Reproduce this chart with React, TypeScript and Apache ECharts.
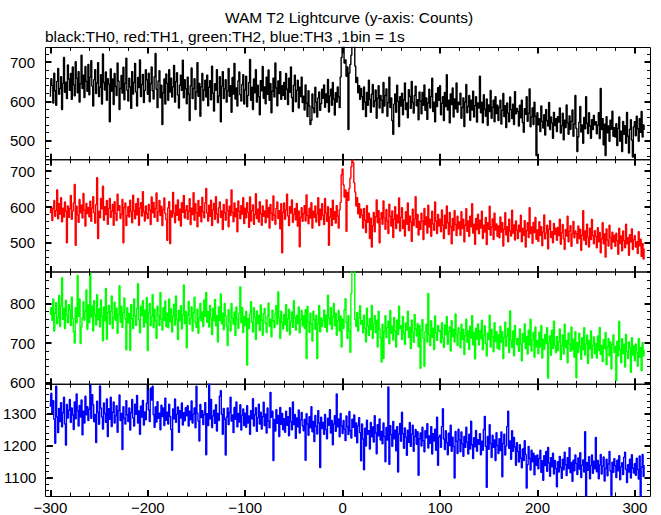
import React, { useEffect, useRef } from "react";
import * as echarts from "echarts";

const TITLE = "WAM T2 Lightcurve (y-axis: Counts)";
const SUBTITLE = "black:TH0, red:TH1, green:TH2, blue:TH3 ,1bin = 1s";

// time of the first 1-s bin (s); bins follow every second
const T_START = -300;
// visible x range of the panels
const X_RANGE = [-305, 316.1];
// x tick settings
const X_TICK_MIN = -300;
const X_TICK_MAX = 300;

// counts per 1-s bin, t = -300 ... 310
const TH0 = [
  612, 658, 641, 596, 672, 627, 590, 651, 684, 618, 633, 663, 579, 646, 712, 623, 649, 607, 693, 657,
  628, 671, 605, 688, 642, 614, 701, 659, 622, 676, 598, 645, 718, 633, 667, 610, 689, 651, 626, 694,
  617, 662, 704, 639, 588, 655, 681, 620, 647, 699, 612, 636, 668, 593, 721, 648, 629, 675, 603, 658,
  644, 548, 683, 626, 657, 592, 671, 638, 615, 698, 652, 579, 633, 666, 621, 687, 604, 646, 710, 628,
  601, 659, 637, 582, 676, 619, 648, 697, 624, 588, 661, 635, 706, 612, 643, 669, 597, 628, 681, 655,
  618, 672, 599, 645, 688, 627, 606, 663, 722, 631, 584, 652, 678, 609, 641, 541, 622, 657, 593, 670,
  646, 603, 681, 624, 659, 611, 637, 692, 598, 650, 673, 616, 583, 641, 667, 628, 705, 609, 655, 632,
  594, 662, 618, 551, 640, 685, 607, 633, 658, 579, 624, 699, 613, 646, 562, 637, 671, 602, 629, 654,
  611, 667, 589, 636, 653, 604, 690, 621, 575, 645, 628, 681, 597, 614, 663, 548, 639, 676, 607, 632,
  655, 598, 627, 684, 613, 640, 572, 661, 619, 697, 606, 634, 588, 652, 675, 617, 601, 643, 668, 593,
  629, 664, 586, 615, 648, 707, 603, 636, 579, 657, 622, 681, 598, 641, 612, 566, 653, 627, 689, 608,
  637, 594, 662, 618, 680, 603, 645, 571, 626, 659, 611, 698, 634, 589, 652, 620, 676, 605, 640, 615,
  648, 605, 671, 631, 592, 659, 623, 688, 610, 574, 641, 667, 599, 628, 654, 583, 636, 612, 662, 597,
  613, 578, 642, 596, 561, 627, 588, 541, 552, 619, 583, 571, 636, 598, 560, 609, 624, 577, 594, 631,
  608, 642, 585, 619, 597, 656, 573, 614, 631, 590, 648, 606, 565, 622, 598, 637, 611, 584, 662, 712,
  772, 755, 698, 706, 664, 688, 528, 672, 694, 718, 768, 785, 752, 690, 648, 661, 622, 640, 605, 633,
  612, 579, 637, 598, 561, 623, 590, 654, 605, 572, 618, 643, 586, 601, 629, 557, 608, 640, 583, 615,
  603, 571, 648, 588, 615, 632, 562, 597, 662, 584, 609, 551, 516, 593, 619, 572, 641, 600, 536, 612,
  588, 621, 566, 604, 647, 579, 596, 558, 630, 613, 582, 651, 597, 570, 615, 639, 589, 604, 553, 624,
  601, 568, 623, 590, 642, 577, 609, 554, 596, 631, 583, 612, 659, 574, 598, 548, 620, 587, 635, 603,
  640, 566, 595, 612, 551, 623, 587, 668, 578, 603, 545, 619, 592, 634, 560, 606, 581, 647, 572, 598,
  592, 621, 557, 584, 609, 536, 598, 643, 571, 587, 615, 552, 603, 578, 626, 560, 589, 612, 547, 596,
  583, 664, 571, 598, 545, 617, 580, 562, 606, 539, 591, 574, 628, 557, 585, 603, 548, 612, 569, 590,
  551, 584, 603, 542, 577, 620, 561, 589, 533, 596, 570, 548, 611, 579, 556, 593, 541, 625, 568, 582,
  574, 537, 590, 558, 603, 546, 521, 581, 567, 612, 549, 570, 632, 535, 560, 583, 541, 598, 562, 462,
  571, 540, 556, 523, 588, 549, 532, 566, 514, 579, 551, 537, 597, 528, 560, 545, 506, 572, 538, 556,
  523, 561, 547, 583, 519, 538, 570, 502, 552, 533, 591, 545, 516, 563, 529, 549, 578, 511, 542, 615,
  531, 472, 509, 547, 587, 522, 540, 493, 559, 530, 612, 544, 518, 571, 537, 506, 553, 528, 564, 540,
  548, 517, 539, 571, 505, 633, 528, 556, 489, 542, 462, 561, 520, 537, 498, 552, 529, 575, 511, 533,
  509, 543, 487, 531, 560, 498, 524, 472, 549, 516, 538, 493, 572, 511, 468, 529, 553, 501, 458, 535,
  548, 512, 562, 530, 498, 556, 521, 574, 509, 540, 527,
];

const TH1 = [
  583, 601, 562, 595, 618, 574, 590, 648, 567, 609, 580, 626, 559, 597, 572, 614, 588, 500, 603, 571,
  595, 632, 566, 589, 611, 663, 493, 602, 578, 557, 621, 584, 605, 569, 638, 591, 547, 610, 582, 599,
  573, 616, 560, 597, 629, 584, 555, 607, 682, 512, 588, 570, 624, 595, 658, 563, 601, 579, 618, 552,
  596, 624, 571, 588, 607, 549, 615, 583, 562, 636, 591, 604, 568, 580, 621, 500, 598, 611, 548, 576,
  601, 572, 619, 588, 556, 633, 590, 567, 609, 578, 624, 549, 597, 612, 575, 643, 586, 561, 603, 581,
  568, 607, 592, 551, 628, 584, 613, 571, 596, 639, 560, 587, 618, 576, 602, 548, 593, 625, 582, 565,
  507, 598, 615, 498, 589, 572, 641, 583, 556, 606, 577, 620, 563, 594, 547, 612, 585, 632, 569, 591,
  604, 566, 588, 623, 551, 597, 579, 640, 563, 609, 584, 545, 618, 575, 601, 559, 627, 586, 570, 612,
  652, 583, 561, 605, 574, 619, 548, 592, 610, 566, 629, 580, 556, 598, 614, 571, 589, 537, 607, 584,
  563, 621, 590, 545, 602, 576, 648, 585, 559, 611, 573, 596, 531, 617, 588, 567, 604, 580, 626, 554,
  597, 570, 612, 585, 543, 628, 561, 590, 606, 552, 579, 637, 568, 594, 558, 615, 581, 549, 603, 574,
  589, 556, 620, 571, 598, 541, 607, 583, 563, 631, 577, 552, 596, 614, 568, 590, 539, 609, 472, 585,
  611, 566, 592, 636, 575, 548, 601, 583, 620, 557, 579, 596, 564, 610, 547, 589, 489, 571, 598, 560,
  582, 604, 561, 634, 576, 553, 597, 569, 612, 541, 588, 571, 603, 558, 580, 626, 548, 594, 565, 609,
  577, 551, 624, 583, 560, 601, 493, 572, 596, 548, 619, 566, 587, 555, 604, 575, 541, 592, 613, 690,
  706, 662, 628, 648, 532, 641, 619, 652, 680, 712, 731, 724, 668, 642, 603, 626, 581, 609, 570, 594,
  578, 541, 596, 563, 529, 604, 557, 583, 512, 569, 488, 548, 585, 531, 573, 620, 556, 590, 500, 567,
  584, 552, 617, 569, 538, 593, 561, 526, 608, 574, 547, 589, 515, 566, 601, 540, 578, 556, 625, 533,
  571, 598, 540, 563, 519, 587, 552, 611, 534, 575, 558, 504, 594, 548, 567, 629, 543, 579, 522, 560,
  537, 583, 561, 509, 596, 550, 572, 527, 605, 544, 566, 518, 588, 553, 535, 614, 561, 526, 579, 547,
  566, 531, 592, 549, 512, 577, 540, 603, 556, 523, 585, 545, 497, 568, 534, 590, 551, 520, 574, 539,
  558, 521, 587, 540, 566, 503, 549, 595, 532, 561, 518, 574, 545, 609, 527, 552, 496, 568, 537, 580,
  525, 563, 541, 588, 512, 549, 530, 571, 495, 556, 538, 602, 521, 544, 567, 509, 583, 536, 553, 518,
  547, 514, 572, 530, 556, 491, 538, 584, 522, 545, 503, 566, 533, 519, 591, 527, 550, 508, 561, 535,
  512, 549, 531, 577, 503, 540, 521, 562, 488, 534, 556, 515, 598, 526, 544, 499, 557, 529, 571, 510,
  536, 504, 559, 521, 545, 492, 530, 578, 511, 527, 549, 483, 538, 562, 515, 531, 500, 554, 524, 541,
  507, 543, 520, 566, 496, 529, 551, 511, 482, 537, 519, 574, 503, 532, 548, 490, 525, 560, 514, 533,
  526, 499, 547, 512, 538, 479, 521, 590, 507, 533, 495, 552, 516, 488, 541, 509, 565, 520, 497, 534,
  518, 486, 542, 503, 529, 472, 511, 556, 497, 525, 460, 539, 508, 491, 549, 515, 483, 530, 502, 521,
  490, 527, 505, 468, 541, 498, 519, 478, 533, 506, 486, 552, 497, 514, 465, 523, 502, 539, 481, 509,
  520, 488, 503, 470, 531, 492, 510, 462, 498, 455, 484,
];

const TH2 = [
  772, 790, 758, 812, 731, 776, 803, 749, 765, 821, 742, 795, 866, 760, 788, 737, 809, 771, 752, 798,
  784, 745, 817, 763, 729, 700, 790, 752, 872, 768, 812, 699, 741, 764, 805, 758, 781, 835, 735, 797,
  752, 878, 766, 794, 731, 808, 772, 746, 823, 759, 787, 741, 810, 768, 706, 792, 757, 839, 710, 778,
  796, 748, 781, 820, 737, 765, 804, 758, 789, 725, 772, 846, 753, 794, 740, 778, 815, 762, 683, 790,
  751, 775, 682, 798, 762, 737, 812, 769, 745, 788, 851, 759, 726, 793, 770, 808, 741, 784, 752, 816,
  681, 777, 801, 744, 768, 823, 739, 786, 757, 712, 794, 770, 745, 829, 761, 733, 790, 758, 807, 742,
  776, 739, 812, 754, 787, 728, 768, 799, 746, 820, 761, 709, 783, 757, 795, 736, 772, 848, 750, 781,
  688, 771, 806, 748, 763, 792, 731, 778, 817, 752, 740, 786, 725, 764, 801, 757, 779, 742, 810, 768,
  829, 753, 780, 741, 796, 763, 722, 788, 757, 811, 744, 770, 703, 792, 758, 825, 749, 776, 734, 801,
  770, 742, 694, 785, 756, 731, 801, 764, 748, 779, 719, 792, 761, 738, 776, 843, 752, 790, 727, 768,
  745, 781, 644, 762, 737, 774, 805, 753, 728, 790, 766, 709, 782, 749, 771, 732, 797, 758, 720, 775,
  788, 751, 727, 769, 802, 743, 761, 716, 784, 757, 739, 775, 796, 748, 830, 764, 712, 781, 753, 736,
  773, 747, 798, 730, 762, 786, 721, 755, 779, 740, 808, 764, 733, 771, 750, 792, 726, 760, 783, 744,
  769, 738, 785, 661, 793, 754, 727, 776, 748, 705, 781, 760, 735, 771, 661, 750, 796, 729, 764, 742,
  758, 784, 740, 771, 729, 822, 763, 748, 790, 735, 767, 801, 744, 776, 720, 757, 783, 731, 769, 690,
  761, 738, 785, 813, 752, 712, 770, 731, 677, 826, 895, 905, 888, 760, 742, 778, 731, 764, 795, 748,
  757, 726, 771, 738, 703, 789, 744, 719, 762, 735, 796, 712, 749, 770, 727, 758, 690, 781, 736, 714,
  652, 748, 661, 729, 770, 714, 740, 756, 698, 783, 725, 743, 708, 765, 731, 690, 759, 722, 794, 737,
  744, 709, 768, 725, 697, 751, 733, 781, 715, 740, 686, 759, 728, 702, 773, 736, 718, 750, 691, 745,
  636, 733, 760, 712, 641, 729, 748, 703, 826, 721, 694, 757, 715, 738, 684, 769, 726, 707, 745, 730,
  733, 701, 752, 714, 689, 746, 722, 768, 697, 729, 741, 680, 757, 716, 735, 703, 774, 721, 694, 739,
  726, 688, 748, 709, 735, 671, 719, 761, 702, 731, 684, 743, 713, 770, 696, 727, 660, 738, 710, 749,
  695, 732, 711, 758, 683, 720, 744, 698, 667, 726, 709, 771, 690, 735, 716, 678, 752, 704, 729, 687,
  721, 684, 743, 702, 729, 661, 714, 753, 692, 718, 738, 676, 782, 707, 689, 731, 668, 745, 711, 696,
  712, 679, 736, 698, 655, 724, 703, 749, 686, 717, 672, 733, 695, 761, 680, 708, 727, 664, 741, 690,
  706, 673, 728, 691, 745, 662, 710, 684, 722, 698, 739, 611, 701, 718, 669, 733, 687, 756, 694, 676,
  717, 681, 703, 736, 658, 694, 721, 672, 748, 689, 707, 650, 726, 697, 679, 741, 683, 710, 664, 729,
  612, 702, 676, 725, 691, 659, 714, 683, 739, 670, 698, 720, 648, 707, 685, 731, 662, 694, 716, 673,
  699, 662, 718, 681, 740, 671, 694, 653, 709, 686, 727, 645, 690, 712, 668, 703, 634, 696, 721, 677,
  692, 604, 705, 667, 755, 684, 650, 711, 673, 697, 639, 722, 679, 661, 703, 688, 626, 714, 670, 693,
  655, 698, 676, 641, 712, 664, 689, 630, 701, 668, 683,
];

const TH3 = [
  1322, 1364, 1298, 1341, 1283, 1208, 1386, 1290, 1241, 1317, 1276, 1335, 1259, 1303, 1352, 1268, 1202, 1329, 1287, 1311,
  1345, 1273, 1318, 1296, 1251, 1337, 1284, 1362, 1309, 1262, 1326, 1290, 1343, 1234, 1308, 1271, 1355, 1297, 1322, 1279,
  1314, 1391, 1286, 1360, 1328, 1275, 1298, 1210, 1339, 1305, 1267, 1387, 1318, 1290, 1252, 1334, 1301, 1273, 1346, 1229,
  1316, 1283, 1352, 1260, 1305, 1337, 1271, 1294, 1325, 1242, 1310, 1359, 1279, 1301, 1188, 1322, 1286, 1268, 1341, 1297,
  1276, 1318, 1249, 1303, 1345, 1287, 1262, 1330, 1298, 1357, 1271, 1309, 1236, 1324, 1290, 1342, 1265, 1306, 1281, 1333,
  1389, 1312, 1276, 1380, 1343, 1386, 1297, 1258, 1321, 1274, 1338, 1286, 1302, 1250, 1327, 1291, 1318, 1263, 1349, 1280,
  1305, 1268, 1330, 1292, 1251, 1186, 1315, 1284, 1346, 1273, 1299, 1321, 1242, 1310, 1287, 1334, 1265, 1303, 1278, 1319,
  1294, 1325, 1262, 1308, 1281, 1340, 1271, 1299, 1318, 1256, 1386, 1302, 1277, 1215, 1329, 1288, 1310, 1266, 1297, 1335,
  1172, 1300, 1263, 1394, 1284, 1345, 1257, 1293, 1311, 1270, 1328, 1246, 1301, 1279, 1355, 1372, 1298, 1236, 1317, 1283,
  1171, 1290, 1318, 1266, 1304, 1352, 1277, 1296, 1241, 1320, 1283, 1337, 1259, 1301, 1274, 1328, 1249, 1295, 1315, 1263,
  1302, 1258, 1325, 1271, 1293, 1236, 1310, 1284, 1347, 1262, 1297, 1319, 1245, 1288, 1330, 1268, 1305, 1252, 1291, 1336,
  1263, 1299, 1240, 1318, 1277, 1256, 1367, 1289, 1308, 1154, 1282, 1246, 1313, 1270, 1295, 1229, 1320, 1267, 1301, 1250,
  1285, 1242, 1308, 1264, 1291, 1231, 1319, 1275, 1250, 1337, 1266, 1298, 1223, 1287, 1259, 1312, 1240, 1281, 1304, 1262,
  1247, 1282, 1155, 1300, 1268, 1233, 1291, 1256, 1322, 1244, 1276, 1213, 1295, 1261, 1237, 1310, 1271, 1132, 1289, 1254,
  1273, 1236, 1298, 1251, 1222, 1286, 1264, 1313, 1240, 1279, 1203, 1268, 1294, 1245, 1362, 1259, 1284, 1228, 1301, 1262,
  1238, 1279, 1252, 1216, 1293, 1260, 1235, 1307, 1247, 1224, 1283, 1258, 1296, 1230, 1271, 1209, 1262, 1288, 1241, 1153,
  1268, 1221, 1125, 1255, 1199, 1280, 1236, 1247, 1190, 1273, 1228, 1259, 1212, 1294, 1240, 1175, 1266, 1231, 1284, 1218,
  1245, 1206, 1271, 1229, 1150, 1257, 1218, 1384, 1142, 1263, 1235, 1198, 1276, 1222, 1249, 1184, 1260, 1118, 1237, 1270,
  1214, 1305, 1238, 1192, 1256, 1227, 1170, 1249, 1211, 1273, 1198, 1236, 1264, 1183, 1229, 1251, 1205, 1244, 1108, 1222,
  1240, 1199, 1258, 1216, 1181, 1247, 1225, 1269, 1193, 1231, 1208, 1260, 1174, 1238, 1215, 1252, 1186, 1289, 1139, 1227,
  1233, 1195, 1260, 1316, 1221, 1188, 1247, 1210, 1172, 1239, 1201, 1264, 1183, 1227, 1198, 1099, 1245, 1214, 1176, 1252,
  1218, 1181, 1243, 1206, 1167, 1229, 1195, 1258, 1211, 1174, 1236, 1190, 1277, 1203, 1160, 1225, 1197, 1248, 1183, 1219,
  1205, 1238, 1172, 1214, 1186, 1251, 1292, 1198, 1070, 1229, 1189, 1266, 1207, 1163, 1233, 1195, 1218, 1154, 1241, 1201,
  1176, 1222, 1185, 1243, 1103, 1207, 1236, 1171, 1199, 1260, 1308, 1192, 1215, 1158, 1247, 1183, 1226, 1196, 1139, 1210,
  1182, 1149, 1203, 1161, 1131, 1190, 1154, 1216, 1173, 1068, 1141, 1198, 1160, 1124, 1186, 1150, 1177, 1109, 1168, 1139,
  1171, 1128, 1160, 1186, 1117, 1153, 1092, 1169, 1138, 1182, 1120, 1195, 1146, 1105, 1163, 1134, 1177, 1112, 1154, 1129,
  1072, 1150, 1118, 1167, 1132, 1098, 1158, 1125, 1180, 1141, 1107, 1163, 1129, 1194, 1116, 1148, 1089, 1155, 1122, 1171,
  1145, 1110, 1162, 1127, 1178, 1101, 1139, 1156, 1118, 1244, 1042, 1147, 1123, 1166, 1097, 1138, 1171, 1114, 1152, 1128,
  1226, 1119, 1154, 1097, 1140, 1173, 1112, 1136, 1165, 1090, 1129, 1158, 1106, 1143, 1182, 1121, 1045, 1149, 1117, 1160,
  1138, 1101, 1155, 1122, 1169, 1094, 1134, 1147, 1110, 1164, 1180, 1126, 1085, 1141, 1118, 1158, 1099, 1172, 1130, 1115,
  1144, 1108, 1161, 1126, 1096, 1168, 1042, 1133, 1173, 1104, 1140,
];

// y-axis ranges of the four panels (counts)
const Y_RANGE_TH0 = [451, 737.5];
const Y_RANGE_TH1 = [418.5, 732];
const Y_RANGE_TH2 = [595.5, 880.8];
const Y_RANGE_TH3 = [1041.5, 1392.3];

const PANELS = [
  { name: "TH0", color: "#000000", data: TH0, range: Y_RANGE_TH0 },
  { name: "TH1", color: "#ff0000", data: TH1, range: Y_RANGE_TH1 },
  { name: "TH2", color: "#00ff00", data: TH2, range: Y_RANGE_TH2 },
  { name: "TH3", color: "#0000ff", data: TH3, range: Y_RANGE_TH3 },
];

// layout (px)
const W = 661;
const H = 515;
const PLOT_LEFT = 45.5;
const PLOT_RIGHT = 650.5;
const PLOT_TOP = 47.5;
const PANEL_H = 112.25;
const TICK_LEFT = 50.4;
const TICK_RIGHT = 634.9;
const FONT = "'Liberation Sans', Arial, Helvetica, sans-serif";

const MAJOR_LEN = 6;
const MINOR_LEN = 3.5;

function fmtX(v: number) {
  return v < 0 ? "\u2212" + Math.abs(v) : String(v);
}

function buildOption() {
  const grid: any[] = [];
  const xAxis: any[] = [];
  const yAxis: any[] = [];
  const series: any[] = [];

  const addGrid = (g: any) => {
    grid.push({ containLabel: false, ...g });
    return grid.length - 1;
  };

  PANELS.forEach((p, i) => {
    const top = PLOT_TOP + i * PANEL_H;
    const [lo, hi] = p.range;
    const yPix = (v: number) => top + ((hi - v) / (hi - lo)) * PANEL_H;

    // data grid with frame
    const g = addGrid({
      left: PLOT_LEFT,
      top,
      width: PLOT_RIGHT - PLOT_LEFT,
      height: PANEL_H,
      show: true,
      borderColor: "#000",
      borderWidth: 1,
      backgroundColor: "transparent",
    });
    xAxis.push({ gridIndex: g, type: "value", min: X_RANGE[0], max: X_RANGE[1], show: false });
    yAxis.push({ gridIndex: g, type: "value", min: lo, max: hi, show: false });
    series.push({
      type: "line",
      name: p.name,
      xAxisIndex: xAxis.length - 1,
      yAxisIndex: yAxis.length - 1,
      data: p.data.map((v, k) => [T_START + k, v]),
      step: "middle",
      symbol: "none",
      showSymbol: false,
      clip: true,
      silent: true,
      lineStyle: { color: p.color, width: 1.4 },
      itemStyle: { color: p.color },
      z: 2,
    });

    // x ticks (top and bottom of each panel)
    const gx = addGrid({
      left: TICK_LEFT,
      top,
      width: TICK_RIGHT - TICK_LEFT,
      height: PANEL_H,
    });
    yAxis.push({ gridIndex: gx, type: "value", min: 0, max: 1, show: false });
    (["top", "bottom"] as const).forEach((pos) => {
      [
        { interval: 20, len: MINOR_LEN, w: 1 },
        { interval: 100, len: MAJOR_LEN, w: 2 },
      ].forEach((t) => {
        const withLabels = i === PANELS.length - 1 && pos === "bottom" && t.interval === 100;
        xAxis.push({
          gridIndex: gx,
          type: "value",
          position: pos,
          min: X_TICK_MIN,
          max: X_TICK_MAX,
          interval: t.interval,
          axisLine: { show: false, onZero: false },
          axisTick: { show: true, inside: true, length: t.len, lineStyle: { color: "#000", width: t.w } },
          splitLine: { show: false },
          axisLabel: {
            show: withLabels,
            formatter: fmtX,
            color: "#000",
            fontSize: 15,
            fontFamily: FONT,
            margin: 4,
          },
          z: 3,
        });
      });
    });

    // y ticks: minor (every 20) and major (every 100)
    [
      { step: 20, len: MINOR_LEN, w: 1, labels: false },
      { step: 100, len: MAJOR_LEN, w: 2, labels: true },
    ].forEach((t) => {
      const tMin = Math.ceil(lo / t.step) * t.step;
      const tMax = Math.floor(hi / t.step) * t.step;
      const gy = addGrid({
        left: PLOT_LEFT,
        width: PLOT_RIGHT - PLOT_LEFT,
        top: yPix(tMax),
        height: yPix(tMin) - yPix(tMax),
      });
      xAxis.push({ gridIndex: gy, type: "value", min: 0, max: 1, show: false });
      (["left", "right"] as const).forEach((pos) => {
        yAxis.push({
          gridIndex: gy,
          type: "value",
          position: pos,
          min: tMin,
          max: tMax,
          interval: t.step,
          axisLine: { show: false, onZero: false },
          axisTick: { show: true, inside: true, length: t.len, lineStyle: { color: "#000", width: t.w } },
          splitLine: { show: false },
          axisLabel: {
            show: t.labels && pos === "left",
            formatter: (v: number) => String(v),
            color: "#000",
            fontSize: 15,
            fontFamily: FONT,
            margin: 10.5,
          },
          z: 3,
        });
      });
    });
  });

  return {
    animation: false,
    backgroundColor: "#ffffff",
    grid,
    xAxis,
    yAxis,
    series,
    graphic: [
      {
        type: "text",
        x: 349,
        y: 17,
        style: {
          text: TITLE,
          fill: "#000",
          font: `15.5px ${FONT}`,
          textAlign: "center",
          textVerticalAlign: "middle",
        },
      },
      {
        type: "text",
        x: 45,
        y: 36,
        style: {
          text: SUBTITLE,
          fill: "#000",
          font: `15.5px ${FONT}`,
          textAlign: "left",
          textVerticalAlign: "middle",
        },
      },
    ],
  };
}

export default function App() {
  const ref = useRef<HTMLDivElement>(null);
  useEffect(() => {
    if (!ref.current) return;
    const chart = echarts.init(ref.current, null, { renderer: "svg", width: W, height: H });
    chart.setOption(buildOption() as any);
    return () => chart.dispose();
  }, []);
  return (
    <div
      ref={ref}
      style={{ position: "fixed", left: 0, top: 0, width: W, height: H, background: "#fff" }}
    />
  );
}
